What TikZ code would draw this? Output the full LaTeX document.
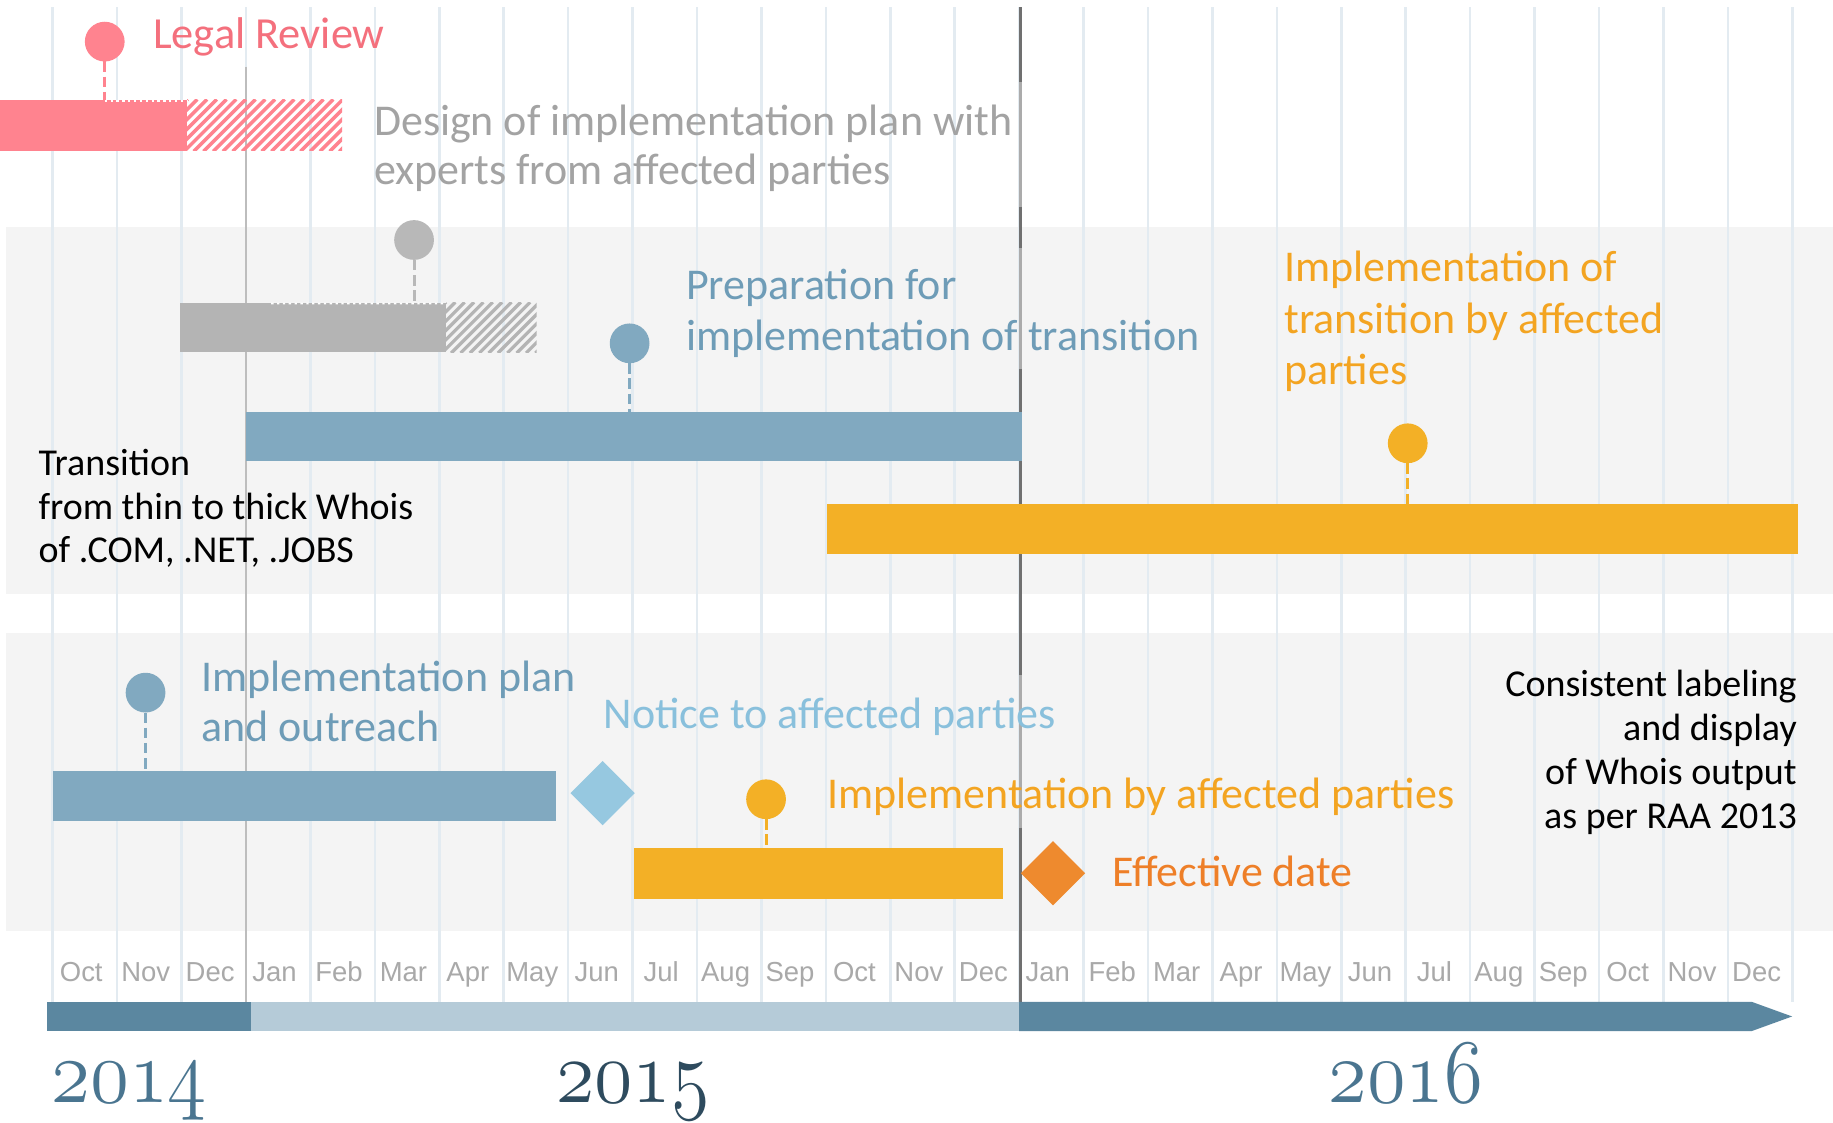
\documentclass[tikz,border=0pt]{standalone}
\usepackage{fontspec}
\usepackage{graphicx}
\setmainfont{Carlito}
\newfontfamily\monthfont{Liberation Sans}
\usetikzlibrary{shapes.geometric}

\definecolor{pinkbar}{HTML}{FF838F}
\definecolor{pinktxt}{HTML}{F4707D}
\definecolor{graybar}{HTML}{B4B4B4}
\definecolor{graydot}{HTML}{B8B8B8}
\definecolor{graytxt}{HTML}{A3A3A3}
\definecolor{bluebar}{HTML}{81A9C0}
\definecolor{bluetxt}{HTML}{6E9CB7}
\definecolor{orgbar}{HTML}{F3B026}
\definecolor{orgtxt}{HTML}{F3A421}
\definecolor{lbluedia}{HTML}{96C8E0}
\definecolor{lbluetxt}{HTML}{89C0DC}
\definecolor{effdia}{HTML}{EE8A2E}
\definecolor{efftxt}{HTML}{EE7F28}
\definecolor{bandgray}{HTML}{F4F4F4}
\definecolor{gridblue}{HTML}{E3EBF1}
\definecolor{tldark}{HTML}{5B87A0}
\definecolor{tllight}{HTML}{B5CBD8}
\definecolor{yearA}{HTML}{4A7590}
\definecolor{yearB}{HTML}{2E4B5E}
\definecolor{monthtxt}{HTML}{A9A9A9}
\definecolor{yrline}{HTML}{BDBDBD}
\definecolor{yrdark}{HTML}{707070}
\definecolor{yrlight}{HTML}{ABABAB}

\newcommand{\myyearfont}{\fontencoding{OML}\fontfamily{lmm}\fontseries{m}\fontshape{it}\fontsize{12}{12}\selectfont}
\newcommand{\myyear}[2]{\scalebox{1}[1.15]{\resizebox{#1}{!}{\myyearfont #2}}}

\tikzset{
  bar/.style={rectangle, inner sep=0pt, outer sep=0pt, anchor=north west, draw=none},
  ms/.style={circle, inner sep=0pt, outer sep=0pt, minimum size=34pt},
  stem/.style={line width=2.5pt, dash pattern=on 9pt off 4pt},
  topdash/.style={white, line width=1.5pt, dash pattern=on 2pt off 3pt},
  dia/.style={diamond, inner sep=0pt, outer sep=0pt, minimum width=55pt, minimum height=55pt},
  lbl/.style={anchor=base west, inner sep=0pt, outer sep=0pt, font=\fontsize{37.6}{44}\selectfont},
  blk/.style={anchor=base west, inner sep=0pt, outer sep=0pt, text=black, font=\fontsize{32.5}{38}\selectfont},
  blkr/.style={blk, anchor=base east},
  month/.style={anchor=base, inner sep=0pt, text=monthtxt, font=\monthfont\fontsize{23.5}{26}\selectfont},
  gridline/.style={gridblue, line width=2.2pt},
  year/.style={anchor=base west, inner sep=0pt, outer sep=0pt}
}

\begin{document}
\begin{tikzpicture}[x=1pt, y=-1pt]
\useasboundingbox (0,0) rectangle (1568,960);
\fill[white] (0,0) rectangle (1568,960);

% bands
\fill[bandgray] (5,194) rectangle (1568,508.5);
\fill[bandgray] (5,541.7) rectangle (1568,796);

% month grid
\foreach \k in {0,...,27} \draw[gridline] ({45+55.12*\k},6) -- ({45+55.12*\k},857);

% year separators
\draw[yrline, line width=2.2pt] (210.4,57) -- (210.4,857);
\draw[yrlight, line width=2.2pt] (872.8,6) -- (872.8,857);
\foreach \a/\b in {6/70, 177/212, 316/577, 708/857}
  \draw[yrdark, line width=2.2pt] (872.8,\a) -- (872.8,\b);

% bars
\node[bar, fill=pinkbar, minimum width=160pt, minimum height=43.4pt] (bLegal) at (0,85.5) {};
\node[bar, minimum width=132.6pt, minimum height=43.4pt] (hLegal) at (160,85.5) {};
\node[bar, fill=graybar, minimum width=227.7pt, minimum height=42.5pt] (bDesign) at (153.9,258.9) {};
\node[bar, minimum width=77.4pt, minimum height=42.5pt] (hDesign) at (381.6,258.9) {};
\node[bar, fill=bluebar, minimum width=663.8pt, minimum height=41.6pt] (bPrep) at (210.4,352.4) {};
\node[bar, fill=orgbar, minimum width=831pt, minimum height=42.5pt] (bTrans) at (707.4,431.1) {};
\node[bar, fill=bluebar, minimum width=430.4pt, minimum height=42.5pt] (bPlan) at (45.3,659.5) {};
\node[bar, fill=orgbar, minimum width=315pt, minimum height=43.6pt] (bImpl) at (542.6,725.7) {};

% hatching
\begin{scope}
\clip (hLegal.south west) rectangle (hLegal.north east);
\foreach \i in {0,...,22} \draw[pinkbar, line width=3pt] ({116+8.3*\i},129.5) -- ++(44.5,-44.5);
\end{scope}
\begin{scope}
\clip (hDesign.south west) rectangle (hDesign.north east);
\foreach \i in {0,...,15} \draw[graybar, line width=2.8pt] ({338+8*\i},302) -- ++(43.5,-43.5);
\end{scope}

% milestones
\node[ms, fill=pinkbar] (cLegal) at (89.6,35.6) {};
\node[ms, fill=graydot] (cDesign) at (354.2,205.3) {};
\node[ms, fill=bluebar] (cPrep) at (538.6,293.7) {};
\node[ms, fill=orgbar] (cTrans) at (1204.2,379.2) {};
\node[ms, fill=bluebar] (cPlan) at (124.5,592.5) {};
\node[ms, fill=orgbar] (cImpl) at (655.3,683.7) {};

\draw[stem, pinkbar] (cLegal.south) -- (cLegal.south |- bLegal.north);
\draw[stem, graydot] (cDesign.south) -- (cDesign.south |- bDesign.north);
\draw[stem, bluebar] (cPrep.south) -- (cPrep.south |- bPrep.north);
\draw[stem, orgbar] (cTrans.south) -- (cTrans.south |- bTrans.north);
\draw[stem, bluebar] (cPlan.south) -- (cPlan.south |- bPlan.north);
\draw[stem, orgbar] (cImpl.south) -- (cImpl.south |- bImpl.north);

\coordinate (dsStart) at (232,259.6);
\draw[topdash] ([yshift=-0.8pt]cLegal.south |- bLegal.north) -- ([yshift=-0.8pt]hLegal.north west);
\draw[topdash] (dsStart) -- ([yshift=-0.8pt]hDesign.north west);

% diamonds
\node[dia, fill=lbluedia] (dNotice) at (515.5,678.5) {};
\node[dia, fill=effdia] (dEff) at (900.8,747) {};

% labels
\node[lbl, text=pinktxt, font=\fontsize{38}{44}\selectfont] (tLegal) at (131,41.3) {Legal Review};
\node[lbl, text=graytxt] (tDesignA) at (320,115.5) {Design of implementation plan with};
\node[lbl, text=graytxt] (tDesignB) at (320,158) {experts from affected parties};
\node[lbl, text=bluetxt] (tPrepA) at (587,256.6) {Preparation for};
\node[lbl, text=bluetxt] (tPrepB) at (587,299.4) {implementation of transition};
\node[lbl, text=orgtxt] (tTransA) at (1098.6,240.9) {Implementation of};
\node[lbl, text=orgtxt] (tTransB) at (1098.6,285) {transition by affected};
\node[lbl, text=orgtxt] (tTransC) at (1098.6,328.5) {parties};
\node[blk] (tThinA) at (33,406.5) {Transition};
\node[blk] (tThinB) at (33,444) {from thin to thick Whois};
\node[blk] (tThinC) at (33,481.5) {of .COM, .NET, .JOBS};
\node[lbl, text=bluetxt] (tPlanA) at (172.5,591.6) {Implementation plan};
\node[lbl, text=bluetxt] (tPlanB) at (172.5,634.4) {and outreach};
\node[lbl, text=lbluetxt] (tNotice) at (516.6,623) {Notice to affected parties};
\node[lbl, text=orgtxt] (tImpl) at (707.8,692) {Implementation by affected parties};
\node[lbl, text=efftxt] (tEff) at (951.3,758.4) {Effective date};
\node[blkr] (tConsA) at (1537,596) {Consistent labeling};
\node[blkr] (tConsB) at (1537,633.5) {and display};
\node[blkr] (tConsC) at (1537,671) {of Whois output};
\node[blkr] (tConsD) at (1537,708.5) {as per RAA 2013};

% month labels
\foreach \m [count=\k from 0] in {Oct,Nov,Dec,Jan,Feb,Mar,Apr,May,Jun,Jul,Aug,Sep,Oct,Nov,Dec,Jan,Feb,Mar,Apr,May,Jun,Jul,Aug,Sep,Oct,Nov,Dec}
  \node[month] (m\k) at ({69.5+55.12*\k},839.7) {\m};

% time axis
\fill[tldark] (40.6,857) rectangle (214.8,882);
\fill[tllight] (214.8,857) rectangle (871.8,882);
\fill[tldark] (871.8,857) -- (1498.5,857) -- (1533,869.5) -- (1498.5,882) -- (871.8,882) -- cycle;

% years
\node[year, text=yearA] (y2014) at (44,943) {\myyear{133pt}{2014}};
\node[year, text=yearB] (y2015) at (476,943) {\myyear{131pt}{2015}};
\node[year, text=yearA] (y2016) at (1136.5,943) {\myyear{132pt}{2016}};
\end{tikzpicture}
\end{document}
